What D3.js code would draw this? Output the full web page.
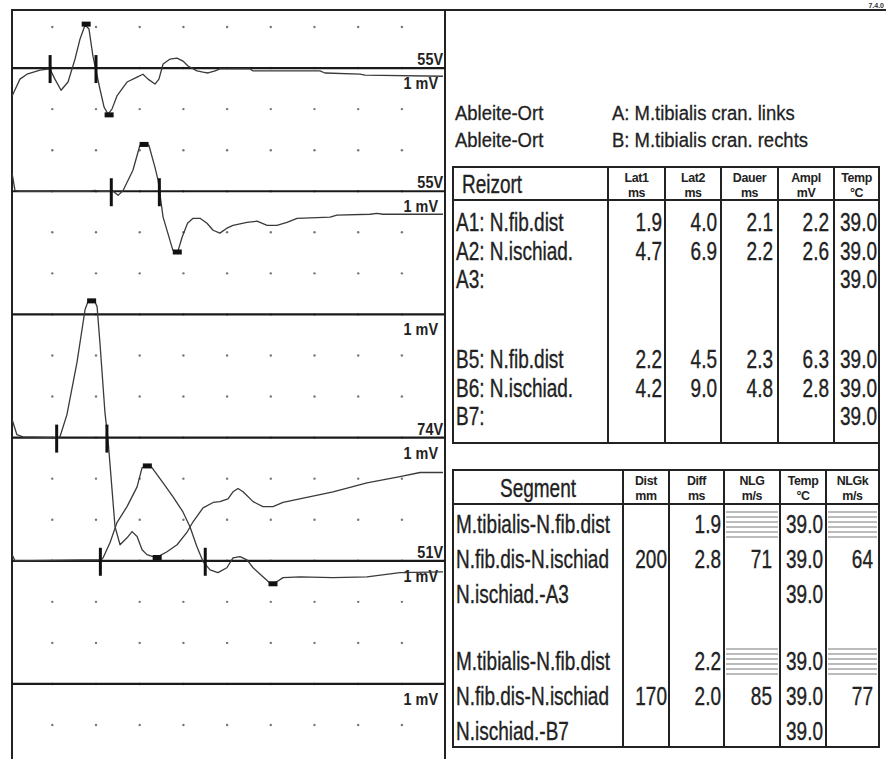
<!DOCTYPE html>
<html lang="de">
<head>
  <meta charset="UTF-8">
  <title>NLG Messung M.tibialis cran.</title>
  <style>
    * { margin: 0; padding: 0; box-sizing: border-box; }
    body { background: #fff; width: 886px; height: 759px; overflow: hidden; }
    svg { display: block; font-family: "Liberation Sans", Arial, sans-serif; }
    .frame { stroke: #222; stroke-width: 2; fill: none; }
    .base { stroke: #1a1a1a; stroke-width: 2.2; }
    .dot { fill: #777; }
    .trace { fill: none; stroke: #3a3a3a; stroke-width: 1.3; stroke-linejoin: round; }
    .tick { stroke: #111; stroke-width: 3; }
    .mark { fill: #111; }
    .lbl { font-size: 16px; font-weight: bold; fill: #222; }
    .cell { font-size: 25px; fill: #222; stroke: #222; stroke-width: 0.35; }
    .hdr { font-size: 13.5px; font-weight: bold; fill: #222; letter-spacing: -0.4px; }
    .grid { stroke: #222; stroke-width: 2; }
    .hatch { stroke: #555; stroke-width: 0.8; }
    .info { font-size: 21px; fill: #222; stroke: #222; stroke-width: 0.3; }
  </style>
  <script src="https://cdn.jsdelivr.net/npm/d3@7/dist/d3.min.js"></script>
</head>
<body>
  <svg id="chart" width="886" height="759"></svg>

  <script>
    // ---- data ----
    const channels = ['A1', 'A2', 'A3', 'B5', 'B6', 'B7'];
    const stimVolts = ['55V', '55V', '', '74V', '51V', ''];
    const sensitivity = '1 mV';
    const gridTimes = [2, 4, 6, 8, 10, 12, 14, 16, 18];   // ms, one dot column per 2 ms

    // traces: [time ms, amplitude mV]
    const traceA1 = [[0.16,-0.68],[0.52,-0.27],[0.84,-0.15],[1.44,-0.05],[1.89,-0.02],[2.12,-0.27],[2.40,-0.54],
      [2.72,-0.34],[3.04,0.22],[3.27,0.71],[3.50,1.05],[3.68,0.95],[3.86,0.29],[4.18,-0.51],[4.37,-0.95],
      [4.55,-1.12],[4.73,-1.00],[4.96,-0.68],[5.42,-0.34],[5.88,-0.22],[6.15,-0.15],[6.38,-0.27],[6.70,-0.39],
      [6.88,-0.27],[7.07,0.10],[7.39,0.22],[7.71,0.24],[7.98,0.17],[8.21,0.05],[8.62,-0.07],[8.90,-0.10],
      [9.13,-0.12],[9.45,-0.07],[9.67,-0.02],[11.05,-0.02],[11.19,-0.07],[14.25,-0.07],[14.48,-0.12],
      [16.08,-0.15],[16.31,-0.17],[19.88,-0.20]];
    const traceA2 = [[0.16,0.44],[0.29,0.02],[0.52,0],[3.73,0],[3.95,0.02],[4.18,0],[4.78,0],[5.01,-0.10],
      [5.24,0.02],[5.69,0.51],[6.01,1.12],[6.42,1.12],[6.70,0.58],[6.84,0.27],[7.07,-0.63],[7.52,-1.44],
      [7.75,-1.46],[7.94,-1.12],[8.19,-0.78],[8.44,-0.66],[8.76,-0.66],[9.08,-0.78],[9.36,-0.95],[9.67,-1.02],
      [9.99,-0.90],[10.27,-0.83],[10.91,-0.76],[11.37,-0.73],[11.83,-0.83],[12.28,-0.83],[12.74,-0.76],
      [13.20,-0.66],[14.71,-0.63],[15.03,-0.58],[16.54,-0.56],[16.86,-0.54],[17.13,-0.56],[19.88,-0.56]];
    const traceB5 = [[0.16,0.44],[0.38,0.07],[0.66,0.02],[2.22,0],[2.35,0.02],[2.67,0.56],[3.13,1.83],
      [3.50,3.12],[3.63,3.31],[3.95,3.31],[4.05,3.19],[4.18,2.31],[4.41,0.61],[4.55,-0.05],[4.87,-2.17],
      [5.10,-2.61],[5.42,-2.44],[5.65,-2.29],[5.88,-2.41],[6.11,-2.73],[6.33,-2.85],[6.61,-2.90],[6.84,-2.90],
      [7.25,-2.78],[7.71,-2.61],[8.16,-2.31],[8.44,-2.05],[8.90,-1.71],[9.36,-1.58],[9.67,-1.56],[10.04,-1.49],
      [10.27,-1.32],[10.50,-1.24],[10.73,-1.32],[11.19,-1.56],[11.64,-1.68],[12.10,-1.68],[12.56,-1.58],
      [14.85,-1.32],[16.40,-1.10],[17.91,-0.95],[18.83,-0.85],[19.88,-0.85]];
    const traceB6 = [[0.16,0.15],[0.29,0],[3.41,0.02],[4.23,0.02],[4.32,0.07],[4.64,0.44],[4.96,0.93],
      [5.42,1.32],[5.88,1.80],[6.11,2.27],[6.24,2.29],[6.47,2.29],[6.56,2.27],[7.07,1.90],[7.52,1.56],
      [7.98,1.19],[8.30,0.83],[8.62,0.34],[8.90,-0.02],[9.22,-0.22],[9.58,-0.29],[9.99,-0.17],[10.27,0.07],
      [10.59,0.10],[10.91,0.02],[11.19,-0.17],[11.64,-0.39],[11.96,-0.54],[12.19,-0.54],[12.56,-0.41],
      [13.34,-0.39],[14.85,-0.41],[16.40,-0.39],[17.91,-0.29],[19.88,-0.27]];
    const traces = { A1: traceA1, A2: traceA2, B5: traceB5, B6: traceB6 };

    // peak / trough markers [ms, mV]
    const peaksA1 = [[3.55, 1.07], [4.6, -1.14]];
    const peaksA2 = [[6.2, 1.14], [7.72, -1.48]];
    const peaksB5 = [[3.8, 3.33], [6.8, -2.92]];
    const peaksB6 = [[6.35, 2.31], [12.1, -0.56]];
    const peaks = { A1: peaksA1, A2: peaksA2, B5: peaksB5, B6: peaksB6 };

    // Reizort table
    const reizort = ['A1: N.fib.dist', 'A2: N.ischiad.', 'A3:', 'B5: N.fib.dist', 'B6: N.ischiad.', 'B7:'];
    const lat1 = [1.9, 4.7, null, 2.2, 4.2, null];
    const lat2 = [4.0, 6.9, null, 4.5, 9.0, null];
    const dauer = [2.1, 2.2, null, 2.3, 4.8, null];
    const ampl = [2.2, 2.6, null, 6.3, 2.8, null];
    const temp1 = [39.0, 39.0, 39.0, 39.0, 39.0, 39.0];

    // Segment table
    const segments = ['M.tibialis-N.fib.dist', 'N.fib.dis-N.ischiad', 'N.ischiad.-A3',
                      'M.tibialis-N.fib.dist', 'N.fib.dis-N.ischiad', 'N.ischiad.-B7'];
    const dist = [null, 200, null, null, 170, null];
    const diff = [1.9, 2.8, null, 2.2, 2.0, null];
    const nlg = [null, 71, null, null, 85, null];
    const temp2 = [39.0, 39.0, 39.0, 39.0, 39.0, 39.0];
    const nlgk = [null, 64, null, null, 77, null];
    const hatched = [true, false, false, true, false, false];

    // ---- drawing ----
    const svg = d3.select('#chart');
    const P = { left: 12, right: 445, top: 10 };

    const x = d3.scaleLinear().domain([0, 20]).range([8.6, 445.6]);
    const yDiv = d3.scaleLinear().domain([0, 17]).range([27, 27 + 17 * 41.06]);   // 1 mV per division
    const baseDiv = i => 1 + 3 * i;

    // frame
    svg.append('line').attr('class', 'frame').attr('x1', P.left - 1).attr('x2', 886).attr('y1', P.top).attr('y2', P.top);
    svg.append('line').attr('class', 'frame').attr('x1', P.left).attr('x2', P.left).attr('y1', P.top).attr('y2', 759);
    svg.append('line').attr('class', 'frame').attr('x1', P.right).attr('x2', P.right).attr('y1', P.top).attr('y2', 759);
    svg.append('text').attr('x', 884).attr('y', 8).attr('text-anchor', 'end')
      .style('font-size', '7px').style('font-weight', 'bold').attr('fill', '#333').text('7.4.0');

    // grid dots
    const dots = [];
    d3.range(18).forEach(k => gridTimes.forEach(t => dots.push([t, k])));
    svg.append('g').selectAll('circle').data(dots).join('circle')
      .attr('class', 'dot').attr('r', 1.2)
      .attr('cx', d => x(d[0])).attr('cy', d => yDiv(d[1]));

    // baselines + labels
    const chan = svg.append('g').selectAll('g').data(channels).join('g');
    chan.append('line').attr('class', 'base')
      .attr('x1', P.left).attr('x2', P.right)
      .attr('y1', (d, i) => yDiv(baseDiv(i))).attr('y2', (d, i) => yDiv(baseDiv(i)));
    chan.append('text').attr('class', 'lbl').attr('text-anchor', 'end')
      .attr('transform', (d, i) => `translate(443,${yDiv(baseDiv(i)) - 3}) scale(0.9,1)`)
      .text((d, i) => stimVolts[i]);
    chan.append('text').attr('class', 'lbl').attr('text-anchor', 'end')
      .attr('transform', (d, i) => `translate(438,${yDiv(baseDiv(i)) + 21}) scale(0.9,1)`)
      .text(sensitivity);

    // traces
    svg.append('clipPath').attr('id', 'clipL').append('rect')
      .attr('x', P.left).attr('y', P.top).attr('width', P.right - P.left).attr('height', 759 - P.top);
    const tg = svg.append('g').attr('clip-path', 'url(#clipL)');
    const lat1Of = c => lat1[channels.indexOf(c)];
    const lat2Of = c => lat2[channels.indexOf(c)];

    Object.keys(traces).forEach(c => {
      const i = channels.indexOf(c);
      const b = baseDiv(i);
      const line = d3.line().x(d => x(d[0])).y(d => yDiv(b - d[1]));
      tg.append('path').attr('class', 'trace').attr('d', line(traces[c]));
      [lat1Of(c), lat2Of(c)].forEach(t => {
        tg.append('line').attr('class', 'tick')
          .attr('x1', x(t)).attr('x2', x(t))
          .attr('y1', yDiv(b) - 13).attr('y2', yDiv(b) + 15);
      });
      peaks[c].forEach(p => {
        tg.append('rect').attr('class', 'mark')
          .attr('x', x(p[0]) - 4.5).attr('y', yDiv(b - p[1]) - 2.5)
          .attr('width', 9).attr('height', 5);
      });
    });

    // ---- right side ----
    function narrow(g, tx, ty, str, anchor, sx) {
      g.append('text').attr('class', 'cell').attr('text-anchor', anchor || 'start')
        .attr('transform', `translate(${tx},${ty}) scale(${sx || 0.76},1)`).text(str);
    }

    const info = svg.append('g');
    const infoText = (tx, ty, s) => info.append('text').attr('class', 'info')
      .attr('transform', `translate(${tx},${ty}) scale(0.88,1)`).text(s);
    infoText(455, 120, 'Ableite-Ort');
    infoText(455, 147, 'Ableite-Ort');
    infoText(612, 120, 'A: M.tibialis cran. links');
    infoText(612, 147, 'B: M.tibialis cran. rechts');

    const fmt = d3.format('.1f');

    function table(cfg) {
      const g = svg.append('g');
      const xs = cfg.edges;
      g.append('rect').attr('class', 'grid').attr('fill', 'none')
        .attr('x', xs[0]).attr('y', cfg.top).attr('width', xs[xs.length - 1] - xs[0]).attr('height', cfg.bottom - cfg.top);
      g.append('line').attr('class', 'grid').attr('x1', xs[0]).attr('x2', xs[xs.length - 1])
        .attr('y1', cfg.hdrBottom).attr('y2', cfg.hdrBottom);
      xs.slice(1, -1).forEach(v => g.append('line').attr('class', 'grid')
        .attr('x1', v).attr('x2', v).attr('y1', cfg.top).attr('y2', cfg.bottom));
      // header
      narrow(g, cfg.firstHdrX, cfg.firstHdrY, cfg.firstHdr, cfg.firstHdrAnchor);
      cfg.heads.forEach((h, j) => {
        const cx = (xs[j + 1] + xs[j + 2]) / 2;
        g.append('text').attr('class', 'hdr').attr('text-anchor', 'middle')
          .attr('transform', `translate(${cx},${cfg.top + 15}) scale(0.92,1)`).text(h[0]);
        g.append('text').attr('class', 'hdr').attr('text-anchor', 'middle')
          .attr('transform', `translate(${cx},${cfg.top + 29.5}) scale(0.92,1)`).text(h[1]);
      });
      const rowY = d3.scaleLinear().domain([0, 1]).range([cfg.row0, cfg.row0 + cfg.rowStep]);
      const yOf = i => rowY(i % 3) + (i >= 3 ? cfg.groupGap : 0);
      cfg.labels.forEach((s, i) => narrow(g, 456, yOf(i), s));
      cfg.cols.forEach((col, j) => {
        col.values.forEach((v, i) => {
          if (col.hatch && col.hatch[i]) {
            d3.range(6).forEach(k => g.append('line').attr('class', 'hatch')
              .attr('x1', xs[j + 1] + 2).attr('x2', xs[j + 2] - 2)
              .attr('y1', yOf(i) - 21 + k * 5).attr('y2', yOf(i) - 21 + k * 5));
          }
          if (v == null) return;
          narrow(g, xs[j + 2] - col.pad, yOf(i), col.fmt ? col.fmt(v) : v, 'end');
        });
      });
    }

    table({
      edges: [453, 608, 665, 721, 778, 834, 879],
      top: 167, hdrBottom: 200, bottom: 443,
      firstHdr: 'Reizort', firstHdrX: 462, firstHdrY: 193,
      heads: [['Lat1', 'ms'], ['Lat2', 'ms'], ['Dauer', 'ms'], ['Ampl', 'mV'], ['Temp', '°C']],
      row0: 231, rowStep: 28.5, groupGap: 137,
      labels: reizort,
      cols: [
        { values: lat1, pad: 3, fmt },
        { values: lat2, pad: 4, fmt },
        { values: dauer, pad: 5, fmt },
        { values: ampl, pad: 5, fmt },
        { values: temp1, pad: 2, fmt }
      ]
    });

    table({
      edges: [453, 623, 669, 724, 780, 826, 879],
      top: 470, hdrBottom: 504, bottom: 747,
      firstHdr: 'Segment', firstHdrX: 538, firstHdrY: 497, firstHdrAnchor: 'middle',
      heads: [['Dist', 'mm'], ['Diff', 'ms'], ['NLG', 'm/s'], ['Temp', '°C'], ['NLGk', 'm/s']],
      row0: 533, rowStep: 35, groupGap: 137,
      labels: segments,
      cols: [
        { values: dist, pad: 2 },
        { values: diff, pad: 3, fmt },
        { values: nlg, pad: 8, hatch: hatched },
        { values: temp2, pad: 3, fmt },
        { values: nlgk, pad: 6, hatch: hatched }
      ]
    });

    // right page edge between the tables
    svg.append('line').attr('class', 'grid').attr('x1', 879).attr('x2', 879).attr('y1', 443).attr('y2', 470);
  </script>
</body>
</html>
